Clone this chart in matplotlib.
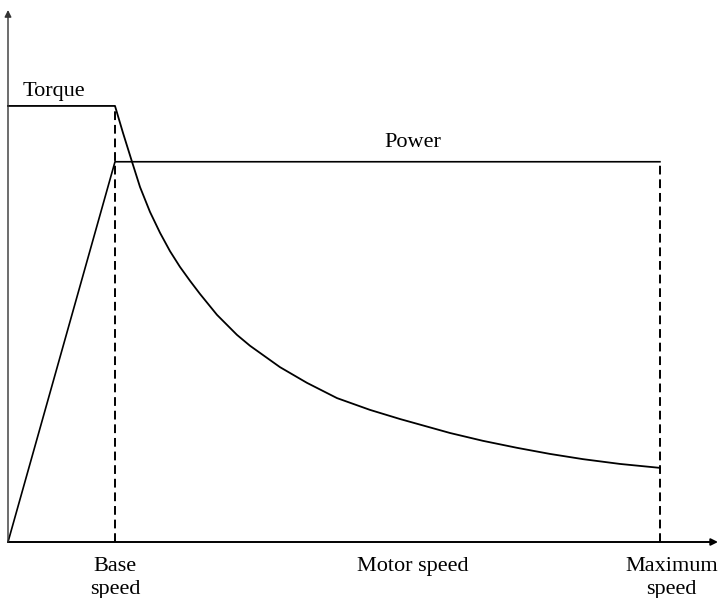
import matplotlib
matplotlib.use('Agg')
import matplotlib.pyplot as plt

# normalised speed (base speed = 1) and torque (rated torque = 1)
torque_speed = [0.0, 1.0, 1.075, 1.159, 1.234, 1.327, 1.421, 1.514, 1.607, 1.701,
                1.794, 1.953, 2.140, 2.262, 2.542, 2.794, 3.075, 3.383, 3.664,
                4.131, 4.439, 4.757, 5.065, 5.374, 5.720, 6.093]
torque_vals = [1.0, 1.0, 0.938, 0.872, 0.814, 0.757, 0.709, 0.667, 0.631, 0.599,
               0.569, 0.521, 0.475, 0.450, 0.401, 0.365, 0.330, 0.303, 0.282,
               0.250, 0.232, 0.216, 0.202, 0.190, 0.179, 0.170]

power_speed = [0.0, 1.0, 6.093]
power_vals = [0.0, 0.872, 0.872]

base_speed = 1.0
max_speed = 6.093

x_labels = ['Base\nspeed', 'Motor speed', 'Maximum\nspeed']
x_label_pos = [1.0, 3.78, 6.2]


def main():
    plt.rcParams['font.family'] = ['Liberation Serif', 'DejaVu Serif']

    fig = plt.figure(figsize=(7.2, 5.98), dpi=100)
    ax = fig.add_axes([8 / 720, 56 / 598, 710 / 720, 532 / 598])
    ax.set_xlim(0, 6.636)
    ax.set_ylim(0, 1.22)
    ax.axis('off')

    # axes with arrow heads
    ax.annotate('', xy=(6.636, 0), xytext=(0, 0),
                arrowprops=dict(arrowstyle='-|>', color='black', lw=1.4,
                                mutation_scale=10, shrinkA=0, shrinkB=0),
                annotation_clip=False)
    ax.annotate('', xy=(0, 1.22), xytext=(0, 0),
                arrowprops=dict(arrowstyle='-|>', color='#333333', lw=1.0,
                                mutation_scale=10, shrinkA=0, shrinkB=0),
                annotation_clip=False)

    # torque and power curves
    ax.plot(torque_speed, torque_vals, color='black', lw=1.3, clip_on=False,
            solid_joinstyle='round')
    ax.plot(power_speed, power_vals, color='black', lw=1.2, clip_on=False)

    # dashed markers at base and maximum speed
    ax.plot([base_speed, base_speed], [0, torque_vals[1]], color='black',
            lw=1.4, linestyle=(0, (4.5, 2.5)))
    ax.plot([max_speed, max_speed], [0, power_vals[-1]], color='black',
            lw=1.4, linestyle=(0, (4.5, 2.5)))

    ax.text(0.43, 1.034, 'Torque', fontsize=16, ha='center', va='center')
    ax.text(3.78, 0.916, 'Power', fontsize=16, ha='center', va='center')

    for pos, lab in zip(x_label_pos, x_labels):
        ax.text(pos, -0.034, lab, fontsize=16, ha='center', va='top',
                linespacing=1.3, clip_on=False)

    fig.savefig('out.png', dpi=100, facecolor='white')


if __name__ == "__main__":
    main()
